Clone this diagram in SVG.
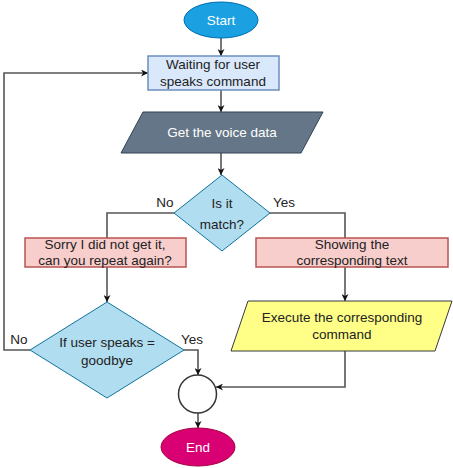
<svg xmlns="http://www.w3.org/2000/svg" width="453" height="468" viewBox="0 0 453 468">
<style>
text{font-family:"Liberation Sans",Arial,sans-serif;font-size:13.5px;text-anchor:middle;fill:#222}
.w{fill:#fff}
.ln{fill:none;stroke:#555;stroke-width:1.6}
</style>
<defs>
<marker id="ah" viewBox="0 0 10 10" refX="10" refY="5" markerWidth="7" markerHeight="7" markerUnits="userSpaceOnUse" orient="auto">
<path d="M0,0 L10,5 L0,10 L3,5 Z" fill="#111"/>
</marker>
</defs>
<rect width="453" height="468" fill="#fff"/>
<g id="connectors">
<path class="ln" d="M221,38 V56" marker-end="url(#ah)"/>
<path class="ln" d="M221,90 V112" marker-end="url(#ah)"/>
<path class="ln" d="M221,153 V175" marker-end="url(#ah)"/>
<path class="ln" d="M174,213 H107 V238"/>
<path class="ln" d="M270,213 H345 V238"/>
<path class="ln" d="M107,267 V302" marker-end="url(#ah)"/>
<path class="ln" d="M345,267 V301" marker-end="url(#ah)"/>
<path class="ln" d="M30,350 H4 V73 H148" marker-end="url(#ah)"/>
<path class="ln" d="M184,350 H198 V375" marker-end="url(#ah)"/>
<path class="ln" d="M345,351 V387 H216" marker-end="url(#ah)"/>
<path class="ln" d="M198,413 V428" marker-end="url(#ah)"/>
<text x="165" y="207">No</text>
<text x="284" y="207">Yes</text>
<text x="19" y="344">No</text>
<text x="192" y="344">Yes</text>
</g>
<g id="start">
<ellipse cx="221" cy="20" rx="37" ry="18" fill="#1ba1e2" stroke="#006eaf"/>
<text class="w" x="221" y="25">Start</text>
</g>
<g id="wait">
<rect x="148" y="56" width="131" height="34" fill="#dae8fc" stroke="#6c8ebf" stroke-width="1.5"/>
<text x="213" y="69">Waiting for user</text>
<text x="213" y="86">speaks command</text>
</g>
<g id="getdata">
<polygon points="143,112 323,112 301,153 121,153" fill="#647687" stroke="#314354"/>
<text class="w" x="222" y="137">Get the voice data</text>
</g>
<g id="match">
<polygon points="222,175 270,213 222,251 174,213" fill="#b1ddf0" stroke="#10739e"/>
<text x="222" y="208">Is it</text>
<text x="222" y="229">match?</text>
</g>
<g id="sorry">
<rect x="25" y="238" width="161" height="29" fill="#f8cecc" stroke="#b85450" stroke-width="1.5"/>
<text x="105" y="249">Sorry I did not get it,</text>
<text x="105" y="265">can you repeat again?</text>
</g>
<g id="showing">
<rect x="256" y="238" width="192" height="29" fill="#f8cecc" stroke="#b85450" stroke-width="1.5"/>
<text x="352" y="249">Showing the</text>
<text x="352" y="265">corresponding text</text>
</g>
<g id="execute">
<polygon points="248,301 452,301 435,351 231,351" fill="#ffff88" stroke="#36393d"/>
<text x="342" y="322">Execute the corresponding</text>
<text x="342" y="339">command</text>
</g>
<g id="goodbye">
<polygon points="107,302 184,350 107,398 30,350" fill="#b1ddf0" stroke="#10739e"/>
<text x="107" y="347">If user speaks =</text>
<text x="107" y="365">goodbye</text>
</g>
<g id="merge">
<circle cx="197.5" cy="394" r="19" fill="#fff" stroke="#333" stroke-width="1.5"/>
</g>
<g id="end">
<ellipse cx="198" cy="447" rx="37" ry="19" fill="#d80073" stroke="#a50040"/>
<text class="w" x="198" y="452">End</text>
</g>
</svg>
